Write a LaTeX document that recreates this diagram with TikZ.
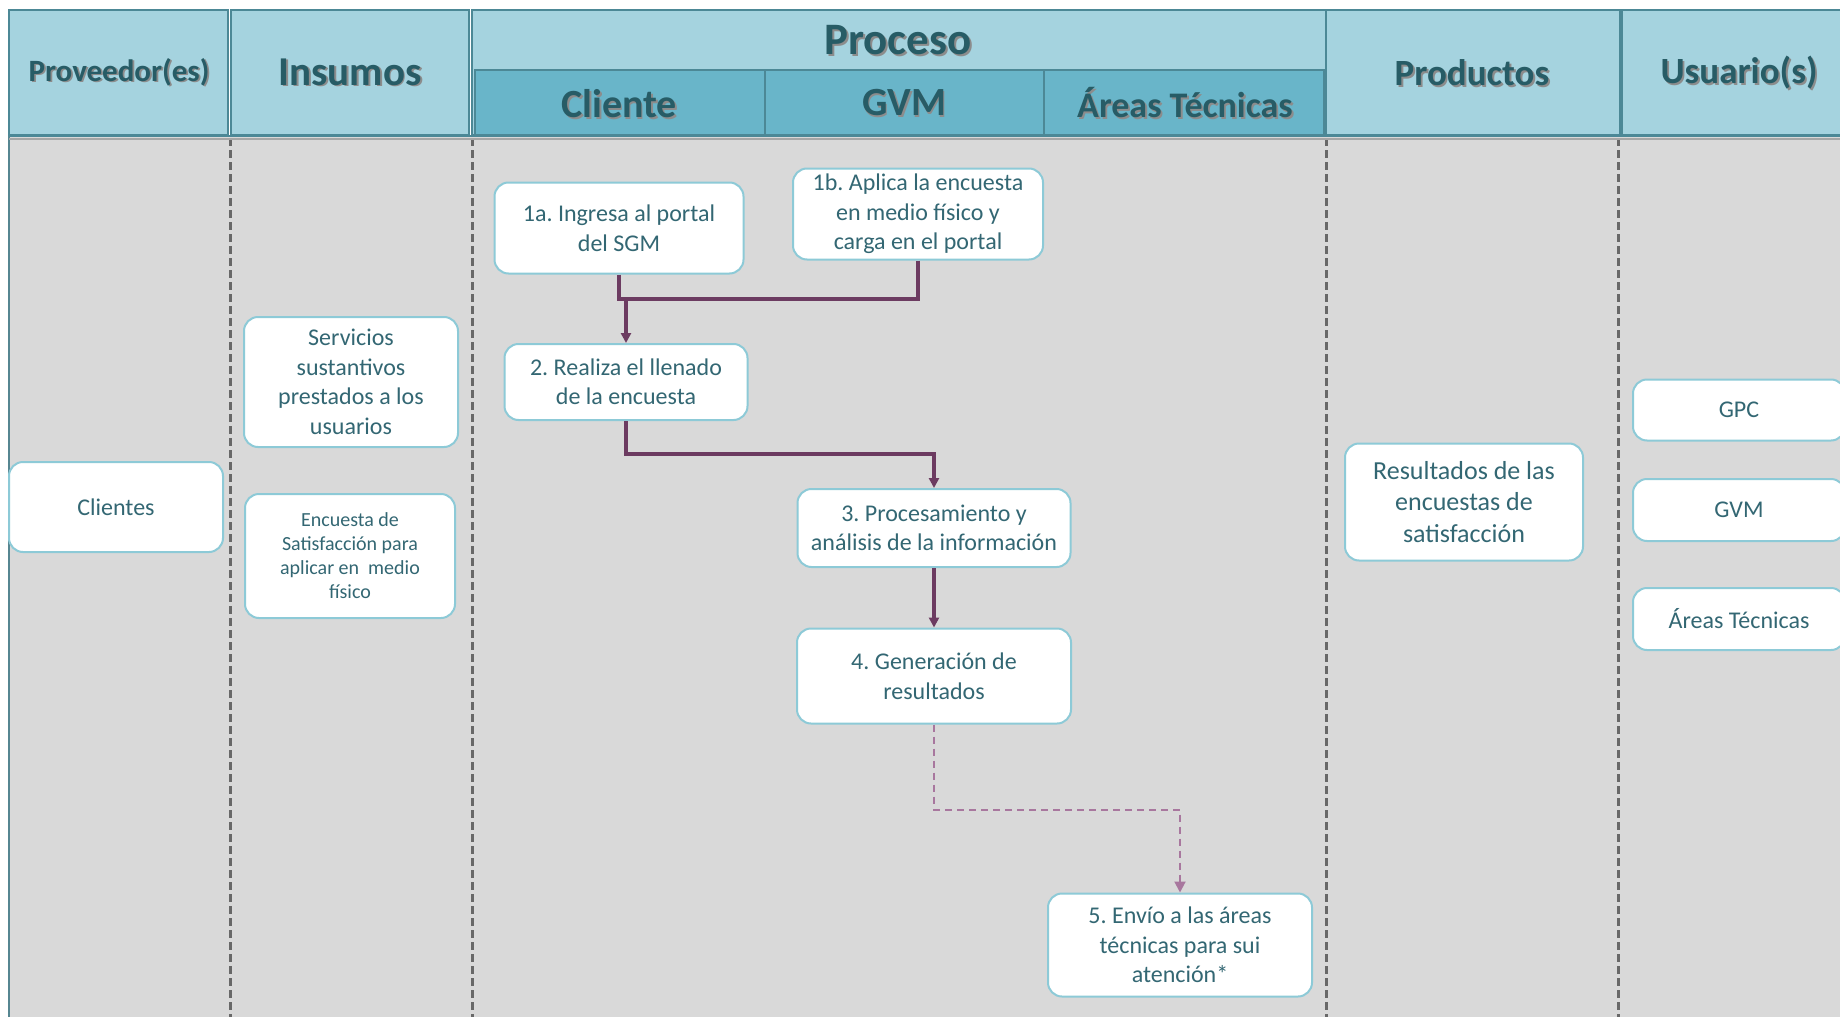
\documentclass[tikz,border=0pt]{standalone}
\usepackage{fontspec}
\setmainfont{Carlito}
\usetikzlibrary{arrows.meta}
\definecolor{hdrlight}{HTML}{A5D3DF}
\definecolor{hdrdark}{HTML}{69B5C9}
\definecolor{hdrtext}{HTML}{275C66}
\definecolor{hdrline}{HTML}{4C8896}
\definecolor{bodygrey}{HTML}{D9D9D9}
\definecolor{laneline}{HTML}{686868}
\definecolor{boxline}{HTML}{8DCAD7}
\definecolor{boxtext}{HTML}{336773}
\definecolor{flowc}{HTML}{6C3B61}
\definecolor{flowlight}{HTML}{A8779E}
\frenchspacing
\newcommand\hdrlbl[5]{%
  \node[text=black!45, font=\bfseries\fontsize{#4}{#4}\selectfont] (#1s) at (#2+1.8,#3+1.8) {#5};
  \node[text=hdrtext, font=\bfseries\fontsize{#4}{#4}\selectfont] (#1) at (#2,#3) {#5};}
\begin{document}
\begin{tikzpicture}[x=1pt,y=-1pt,
  hdrbox/.style={fill=hdrlight, draw=hdrline, line width=1.2pt},
  subbox/.style={fill=hdrdark, draw=hdrline, line width=1.2pt},
  lane/.style={draw=laneline, line width=3pt, dash pattern=on 8pt off 4pt},
  box/.style={draw=boxline, line width=2pt, fill=white, rounded corners=14pt, align=center,
    text=boxtext, inner sep=0pt, font=\fontsize{24}{29.5}\selectfont},
  flow/.style={draw=flowc, line width=3.5pt},
  flowarr/.style={flow, -{Triangle[length=10pt,width=10pt]}},
  dflow/.style={draw=flowlight, line width=2pt, dash pattern=on 7pt off 5pt, -{Triangle[length=11pt,width=11pt]}}
]
\useasboundingbox (0,0) rectangle (1840,1017);
\fill[white] (0,0) rectangle (1840,1017);
% body
\fill[bodygrey] (9,136) rectangle (1840,1017);
\draw[draw=hdrline!80!gray, line width=2pt] (9,136) -- (9,1017);
% lane lines
\draw[lane] (230,138) -- (230,1017);
\draw[lane] (472,138) -- (472,1017);
\draw[lane] (1326,138) -- (1326,1017);
\draw[lane] (1618,138) -- (1618,1017);
% header
\draw[hdrbox] (9,10) rectangle (228,135);
\draw[hdrbox] (231,10) rectangle (469,135);
\draw[hdrbox] (472,10) rectangle (1326,135);
\draw[hdrbox] (1326,10) rectangle (1620,135);
\draw[hdrbox] (1622,10) rectangle (1845,135);
\draw[subbox] (475,70) rectangle (765,135);
\draw[subbox] (765,70) rectangle (1044,135);
\draw[subbox] (1044,70) rectangle (1324,135);
\draw[draw=hdrline, line width=2.5pt] (9,136) -- (1840,136);
\draw[draw=gray!70, line width=2pt] (9,139) -- (1840,139);
\hdrlbl{hprov}{119}{72}{31}{Proveedor(es)}
\hdrlbl{hins}{350}{72}{41}{Insumos}
\hdrlbl{hproc}{898}{40}{45}{Proceso}
\hdrlbl{hcli}{619}{104}{40}{Cliente}
\hdrlbl{hgvm}{904}{103}{40}{GVM}
\hdrlbl{hat}{1185}{103}{36}{Áreas Técnicas}
\hdrlbl{hprod}{1472}{73}{37}{Productos}
\hdrlbl{husu}{1739}{73}{37}{Usuario(s)}
% boxes
\node[box, minimum width=214pt, minimum height=90pt] (cli) at (116,507) {Clientes};
\node[box, minimum width=214pt, minimum height=130pt] (serv) at (351,382) {Servicios\\sustantivos\\prestados a los\\usuarios};
\node[box, minimum width=210pt, minimum height=124pt, font=\fontsize{20}{24}\selectfont] (enc) at (350,556) {Encuesta de\\Satisfacción para\\aplicar en~ medio\\físico};
\node[box, minimum width=249pt, minimum height=91pt] (n1a) at (619,228) {1a. Ingresa al portal\\del SGM};
\node[box, minimum width=250pt, minimum height=91pt] (n1b) at (918,214) {1b. Aplica la encuesta\\en medio físico y\\carga en el portal};
\node[box, minimum width=243pt, minimum height=76pt] (n2) at (626,382) {2. Realiza el llenado\\de la encuesta};
\node[box, minimum width=273pt, minimum height=78pt] (n3) at (934,528) {3. Procesamiento y\\análisis de la información};
\node[box, minimum width=274pt, minimum height=95pt] (n4) at (934,676) {4. Generación de\\resultados};
\node[box, minimum width=264pt, minimum height=103pt] (n5) at (1180,945) {5. Envío a las áreas\\técnicas para sui\\atención*};
\node[box, minimum width=238pt, minimum height=117pt, font=\fontsize{26}{31.5}\selectfont] (res) at (1464,502) {Resultados de las\\encuestas de\\satisfacción};
\node[box, minimum width=212pt, minimum height=61pt] (ugpc) at (1739,410) {GPC};
\node[box, minimum width=212pt, minimum height=62pt] (ugvm) at (1739,510) {GVM};
\node[box, minimum width=212pt, minimum height=62pt] (uat) at (1739,619) {Áreas Técnicas};
% connectors
\coordinate (j) at (626,299);
\draw[flow] (n1a.south) |- (j);
\draw[flow] (n1b.south) |- (j);
\draw[flowarr] (j) -- (n2.north);
\draw[flowarr] (n2.south) -- ++(0,33) -| (n3.north);
\draw[flowarr] (n3.south) -- (n4.north);
\draw[dflow] (n4.south) -- ++(0,85) -| (n5.north);
\end{tikzpicture}
\end{document}
